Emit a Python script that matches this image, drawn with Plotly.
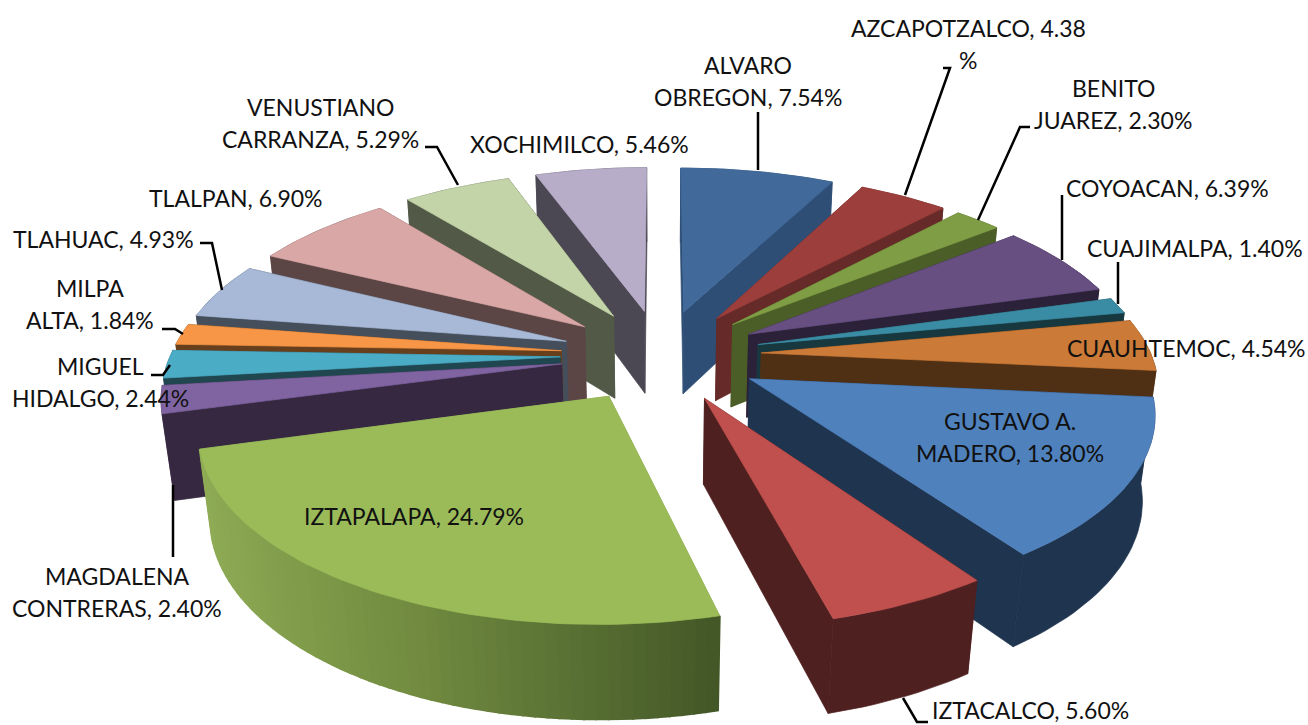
import math
import plotly.graph_objects as go

categories = ["ALVARO OBREGON", "AZCAPOTZALCO", "BENITO JUAREZ", "COYOACAN", "CUAJIMALPA", "CUAUHTEMOC",
              "GUSTAVO A. MADERO", "IZTACALCO", "IZTAPALAPA", "MAGDALENA CONTRERAS", "MIGUEL HIDALGO",
              "MILPA ALTA", "TLAHUAC", "TLALPAN", "VENUSTIANO CARRANZA", "XOCHIMILCO"]
values = [7.54, 4.38, 2.30, 6.39, 1.40, 4.54, 13.80, 5.60, 24.79, 2.40, 2.44, 1.84, 4.93, 6.90, 5.29, 5.46]
label_lines = [["ALVARO", "OBREGON, 7.54%"], ["AZCAPOTZALCO, 4.38", "%"], ["BENITO", "JUAREZ, 2.30%"],
               ["COYOACAN, 6.39%"], ["CUAJIMALPA, 1.40%"], ["CUAUHTEMOC, 4.54%"],
               ["GUSTAVO A.", "MADERO, 13.80%"], ["IZTACALCO, 5.60%"], ["IZTAPALAPA, 24.79%"],
               ["MAGDALENA", "CONTRERAS, 2.40%"], ["MIGUEL", "HIDALGO, 2.44%"], ["MILPA", "ALTA, 1.84%"],
               ["TLAHUAC, 4.93%"], ["TLALPAN, 6.90%"], ["VENUSTIANO", "CARRANZA, 5.29%"], ["XOCHIMILCO, 5.46%"]]
label_pos = [(748, 65), (968, 28), (1113, 88), (1167, 188), (1195, 248), (1186, 348), (1010, 421), (1030, 710),
             (414, 516), (117, 576), (100, 366), (90, 288), (103, 239), (236, 198), (320, 107), (579, 144)]
top_colors = ["#416A9B", "#9C3F3C", "#7F9D45", "#674F82", "#398CA3", "#CC7A37", "#4F81BD", "#C0504D",
              "#9BBB59", "#8064A2", "#4BACC6", "#F79646", "#A8B9D7", "#D9A7A6", "#C3D4A8", "#B7ADC9"]
wall_colors = ["#2E4E75", "#662A28", "#4B5E27", "#2B2138", "#183840", "#4F3015", "#1F344F", "#4F2020",
               "#8AA653", "#362840", "#20464F", "#683F1D", "#454E5B", "#5B4645", "#525947", "#4B4753"]
gradient_slice = "IZTAPALAPA"
gradient_stops = ["#435727", "#5A7234", "#70893F", "#7F9B49", "#8AA653", "#8FAC55"]
leaders = [[(758, 112), (758, 170)], [(943, 68), (950, 68), (905, 195)], [(1030, 127), (1020, 127), (978, 220)],
           [(1062, 195), (1062, 260)], [(1118, 262), (1118, 304)], [(903, 698), (917, 722), (928, 722)],
           [(173, 485), (173, 557)], [(151, 375), (163, 375), (170, 365)], [(162, 329), (175, 329), (183, 334)],
           [(200, 243), (212, 243), (222, 290)], [(425, 147), (437, 147), (458, 185)]]

CX, CY, R, S, P, E, H, Q = 661, 355, 402, 184, 0.16, 0.25, 86, 0.025
RADIUS = 0.97


def project(u, v, bottom=False):
    w = 1 - P * v + (Q if bottom else 0)
    return CX + R * u / w, CY + (S * v + (H if bottom else 0)) / w


def disc(mid, theta, r):
    m, t = math.radians(mid), math.radians(theta)
    return E * math.sin(m) + r * math.sin(t), -E * math.cos(m) - r * math.cos(t)


def hex_rgb(c):
    return [int(c[i:i + 2], 16) for i in (1, 3, 5)]


def ramp(stops, f):
    f = min(max(f, 0), 1) * (len(stops) - 1)
    i = min(int(f), len(stops) - 2)
    a, b = hex_rgb(stops[i]), hex_rgb(stops[i + 1])
    return "rgb(%d,%d,%d)" % tuple(round(a[k] + (b[k] - a[k]) * (f - i)) for k in range(3))


fig = go.Figure()


def poly(points, color, lw=0.7):
    xs = [p[0] for p in points] + [points[0][0]]
    ys = [p[1] for p in points] + [points[0][1]]
    fig.add_trace(go.Scatter(x=xs, y=ys, mode="lines", fill="toself", fillcolor=color,
                             line=dict(color=color, width=lw), hoverinfo="skip", showlegend=False))


slices = []
start = 0.0
total = sum(values)
for name, val, top, wall in zip(categories, values, top_colors, wall_colors):
    end = start + val / total * 360
    slices.append((name, start, end, top, wall))
    start = end

for name, a0, a1, top, wall in sorted(slices, key=lambda s: math.cos(math.radians((s[1] + s[2]) / 2)), reverse=True):
    mid = (a0 + a1) / 2
    n = max(2, int((a1 - a0) / 1.5))
    thetas = [a0 + (a1 - a0) * i / n for i in range(n + 1)]
    apex = disc(mid, 0, 0)
    for t in (a0, a1):
        edge = disc(mid, t, RADIUS)
        poly([project(*apex), project(*edge), project(*edge, True), project(*apex, True)], wall)
    if name == gradient_slice:
        for i in range(n):
            p, q = disc(mid, thetas[i], RADIUS), disc(mid, thetas[i + 1], RADIUS)
            poly([project(*p), project(*q), project(*q, True), project(*p, True)], ramp(gradient_stops, i / n), 2)
    else:
        arc = [disc(mid, t, RADIUS) for t in thetas]
        poly([project(*p) for p in arc] + [project(*p, True) for p in reversed(arc)], wall)
    poly([project(*apex)] + [project(*disc(mid, t, RADIUS)) for t in thetas], top)

for seg in leaders:
    fig.add_trace(go.Scatter(x=[p[0] for p in seg], y=[p[1] for p in seg], mode="lines",
                             line=dict(color="#000000", width=2.5), hoverinfo="skip", showlegend=False))

annotations = []
for lines, (x, y) in zip(label_lines, label_pos):
    for i, line in enumerate(lines):
        annotations.append(dict(x=x, y=y + i * 31.5, xref="x", yref="y", text=line, showarrow=False,
                                font=dict(family="Lato", size=23, color="#111111"), xanchor="center", yanchor="middle"))

fig.update_layout(width=1308, height=725, margin=dict(l=0, r=0, t=0, b=0), paper_bgcolor="white", plot_bgcolor="white",
                  xaxis=dict(range=[0, 1308], visible=False), yaxis=dict(range=[725, 0], visible=False),
                  annotations=annotations, showlegend=False)
fig.write_html("out.html", post_script="document.body.style.margin='0';document.documentElement.style.overflow='hidden';",
               config={"displayModeBar": False})
